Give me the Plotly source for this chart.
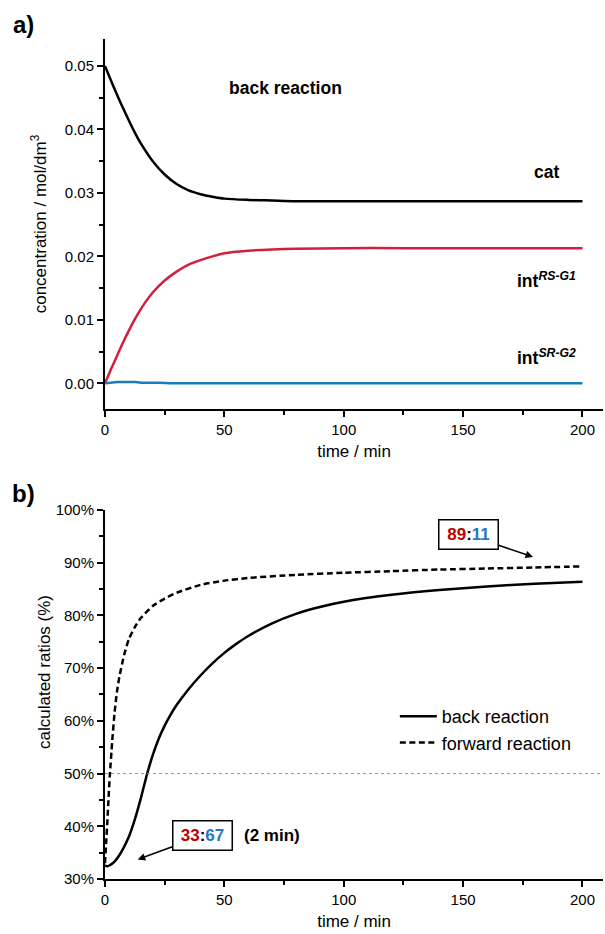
import plotly.graph_objects as go

# ---------------- data ----------------
t_a = [0, 2.5, 5, 7.5, 10, 12.5, 15, 20, 25, 30, 35, 40, 45, 50, 60, 70, 80, 100, 125, 150, 175, 200]
cat = [0.0500, 0.0477, 0.0455, 0.0434, 0.0414, 0.0395, 0.0378, 0.0350, 0.0329, 0.0314, 0.0304,
       0.0298, 0.0294, 0.0291, 0.0289, 0.0288, 0.0287, 0.0287, 0.0287, 0.0287, 0.0287, 0.0287]
int_rs = [0.0, 0.0022, 0.0043, 0.0064, 0.0083, 0.0101, 0.0117, 0.0143, 0.0162, 0.0176, 0.0187,
          0.0194, 0.0200, 0.0205, 0.0209, 0.0211, 0.0212, 0.0213, 0.0213, 0.0213, 0.0213, 0.0213]
int_sr = [0.0, 0.0001, 0.0002, 0.0002, 0.0002, 0.0002, 0.0001, 0.0001, 0.00005, 0.0, 0.0,
          0.0, 0.0, 0.0, 0.0, 0.0, 0.0, 0.0, 0.0, 0.0, 0.0, 0.0]

t_back = [0, 1, 2, 4, 6, 8, 10, 12.5, 15, 17.5, 20, 22.5, 25, 27.5, 30, 35, 40, 45, 50, 55, 60,
          70, 80, 90, 100, 120, 140, 160, 180, 200]
back = [32.5, 32.4, 32.6, 33.3, 34.5, 36.1, 38.0, 41.3, 45.3, 49.7, 53.5, 56.6, 59.1, 61.2, 63.0,
        66.0, 68.6, 70.9, 72.9, 74.6, 76.1, 78.5, 80.3, 81.6, 82.6, 83.9, 84.8, 85.5, 86.0, 86.4]

t_fwd = [0, 0.5, 1, 1.5, 2, 3, 4, 5, 6, 8, 10, 12.5, 15, 20, 25, 30, 40, 50, 60, 80, 100,
         120, 140, 160, 180, 200]
fwd = [33.0, 37.0, 41.0, 45.5, 49.5, 56.0, 61.5, 65.5, 68.3, 72.5, 75.5, 77.8, 79.5, 81.8, 83.2,
       84.3, 85.8, 86.6, 87.1, 87.7, 88.1, 88.4, 88.7, 88.9, 89.1, 89.3]

time_ticks = [0, 50, 100, 150, 200]
conc_ticks = [0.00, 0.01, 0.02, 0.03, 0.04, 0.05]
ratio_ticks = [30, 40, 50, 60, 70, 80, 90, 100]

FONT = "Liberation Sans, Arial, sans-serif"
RED = "#d31e3c"
BLUE = "#1b7bbd"

fig = go.Figure()

# panel a
fig.add_trace(go.Scatter(x=t_a, y=cat, mode="lines", name="cat", showlegend=False,
                         line=dict(color="black", width=2.5, shape="spline", smoothing=0.8),
                         xaxis="x", yaxis="y"))
fig.add_trace(go.Scatter(x=t_a, y=int_rs, mode="lines", name="int RS-G1", showlegend=False,
                         line=dict(color=RED, width=2.5, shape="spline", smoothing=0.6),
                         xaxis="x", yaxis="y"))
fig.add_trace(go.Scatter(x=t_a, y=int_sr, mode="lines", name="int SR-G2", showlegend=False,
                         line=dict(color=BLUE, width=2.5, shape="spline", smoothing=0.6),
                         xaxis="x", yaxis="y"))

# panel b
fig.add_trace(go.Scatter(x=t_back, y=back, mode="lines", name="back reaction",
                         line=dict(color="black", width=2.5, shape="spline", smoothing=0.5),
                         xaxis="x2", yaxis="y2"))
fig.add_trace(go.Scatter(x=t_fwd, y=fwd, mode="lines", name="forward reaction",
                         line=dict(color="black", width=2.5, dash="6px,3.5px", shape="spline", smoothing=0.5),
                         xaxis="x2", yaxis="y2"))

axis_common = dict(showline=True, linewidth=2, linecolor="black", ticks="outside",
                   tickwidth=2, ticklen=6, tickcolor="black", showgrid=False, zeroline=False,
                   mirror=False, tickfont=dict(family=FONT, size=15, color="black"))
minor_common = dict(ticks="outside", ticklen=4, tickwidth=2, tickcolor="black", showgrid=False)

fig.update_layout(
    width=605, height=934,
    margin=dict(l=105, r=2, t=39, b=55),
    paper_bgcolor="white", plot_bgcolor="white",
    font=dict(family=FONT, color="black"),
    xaxis=dict(**axis_common, domain=[0, 1], anchor="y", range=[0, 208.6],
               tickvals=time_ticks, minor=dict(dtick=25, **minor_common),
               title=dict(text="time / min", font=dict(family=FONT, size=17), standoff=8)),
    yaxis=dict(**axis_common, domain=[0.5595, 1], anchor="x", range=[-0.00405, 0.05425],
               tickvals=conc_ticks, ticktext=[f"{v:.2f}" for v in conc_ticks],
               minor=dict(dtick=0.005, **minor_common),
               title=dict(text="concentration / mol/dm<sup>3</sup>", font=dict(family=FONT, size=17), standoff=14)),
    xaxis2=dict(**axis_common, domain=[0, 1], anchor="y2", range=[0, 208.6],
                tickvals=time_ticks, minor=dict(dtick=25, **minor_common),
                title=dict(text="time / min", font=dict(family=FONT, size=17), standoff=8)),
    yaxis2=dict(**axis_common, domain=[0, 0.4393], anchor="x2", range=[30, 100],
                tickvals=ratio_ticks, ticktext=[f"{v}%" for v in ratio_ticks],
                minor=dict(dtick=5, **minor_common)),
    legend=dict(x=0.582, y=0.2155, xanchor="left", yanchor="top", bgcolor="rgba(0,0,0,0)",
                font=dict(family=FONT, size=18, color="black"), tracegroupgap=0, itemwidth=37),
)

# 50% dotted reference line
fig.add_shape(type="line", xref="x2 domain", yref="y2", x0=0, x1=1, y0=50, y1=50,
              line=dict(color="#999999", width=1, dash="dot"))

ann = []
# panel letters
ann.append(dict(text="<b>a)</b>", xref="paper", yref="paper", x=-0.1627, y=1.0167,
                xanchor="center", yanchor="middle", showarrow=False, font=dict(size=24)))
ann.append(dict(text="<b>b)</b>", xref="paper", yref="paper", x=-0.1627, y=0.4595,
                xanchor="center", yanchor="middle", showarrow=False, font=dict(size=24)))
# panel b y-axis title (sits a little above the panel centre in the reference)
ann.append(dict(text="calculated ratios (%)", xref="paper", yref="paper",
                x=(44 - 105) / 498, y=(879 - 672) / 840, textangle=-90,
                xanchor="center", yanchor="middle", showarrow=False, font=dict(size=17)))
# panel a labels
ann.append(dict(text="<b>back reaction</b>", xref="x", yref="y", x=75.4, y=0.0465,
                showarrow=False, font=dict(size=17.5)))
ann.append(dict(text="<b>cat</b>", xref="x", yref="y", x=185.1, y=0.0333,
                showarrow=False, font=dict(size=17.5)))
ann.append(dict(text="<b>int<sup><i>RS-G1</i></sup></b>", xref="x", yref="y", x=185.1, y=0.0163,
                showarrow=False, font=dict(size=17.5)))
ann.append(dict(text="<b>int<sup><i>SR-G2</i></sup></b>", xref="x", yref="y", x=185.1, y=0.0041,
                showarrow=False, font=dict(size=17.5)))
# panel b boxed ratios
box_common = dict(showarrow=True, arrowhead=2, arrowsize=1, arrowwidth=1.5, arrowcolor="black",
                  bordercolor="black", borderwidth=1.5, borderpad=2, bgcolor="white",
                  width=54, height=24, font=dict(size=17))
ann.append(dict(text="<b><span style='color:#c00000'>89</span>:<span style='color:#1f77c4'>11</span></b>",
                xref="x2", yref="y2", x=179.3, y=91.1, ax=-65, ay=-22, **box_common))
ann.append(dict(text="<b><span style='color:#c00000'>33</span>:<span style='color:#1f77c4'>67</span></b>",
                xref="x2", yref="y2", x=13.7, y=33.7, ax=65, ay=-24, **box_common))
ann.append(dict(text="<b>(2 min)</b>", xref="x2", yref="y2", x=70, y=38.2,
                showarrow=False, font=dict(size=17)))
fig.update_layout(annotations=ann)

fig.write_html("out.html", config={"displayModeBar": False},
               post_script="document.body.style.margin='0';document.body.style.overflow='hidden';")
